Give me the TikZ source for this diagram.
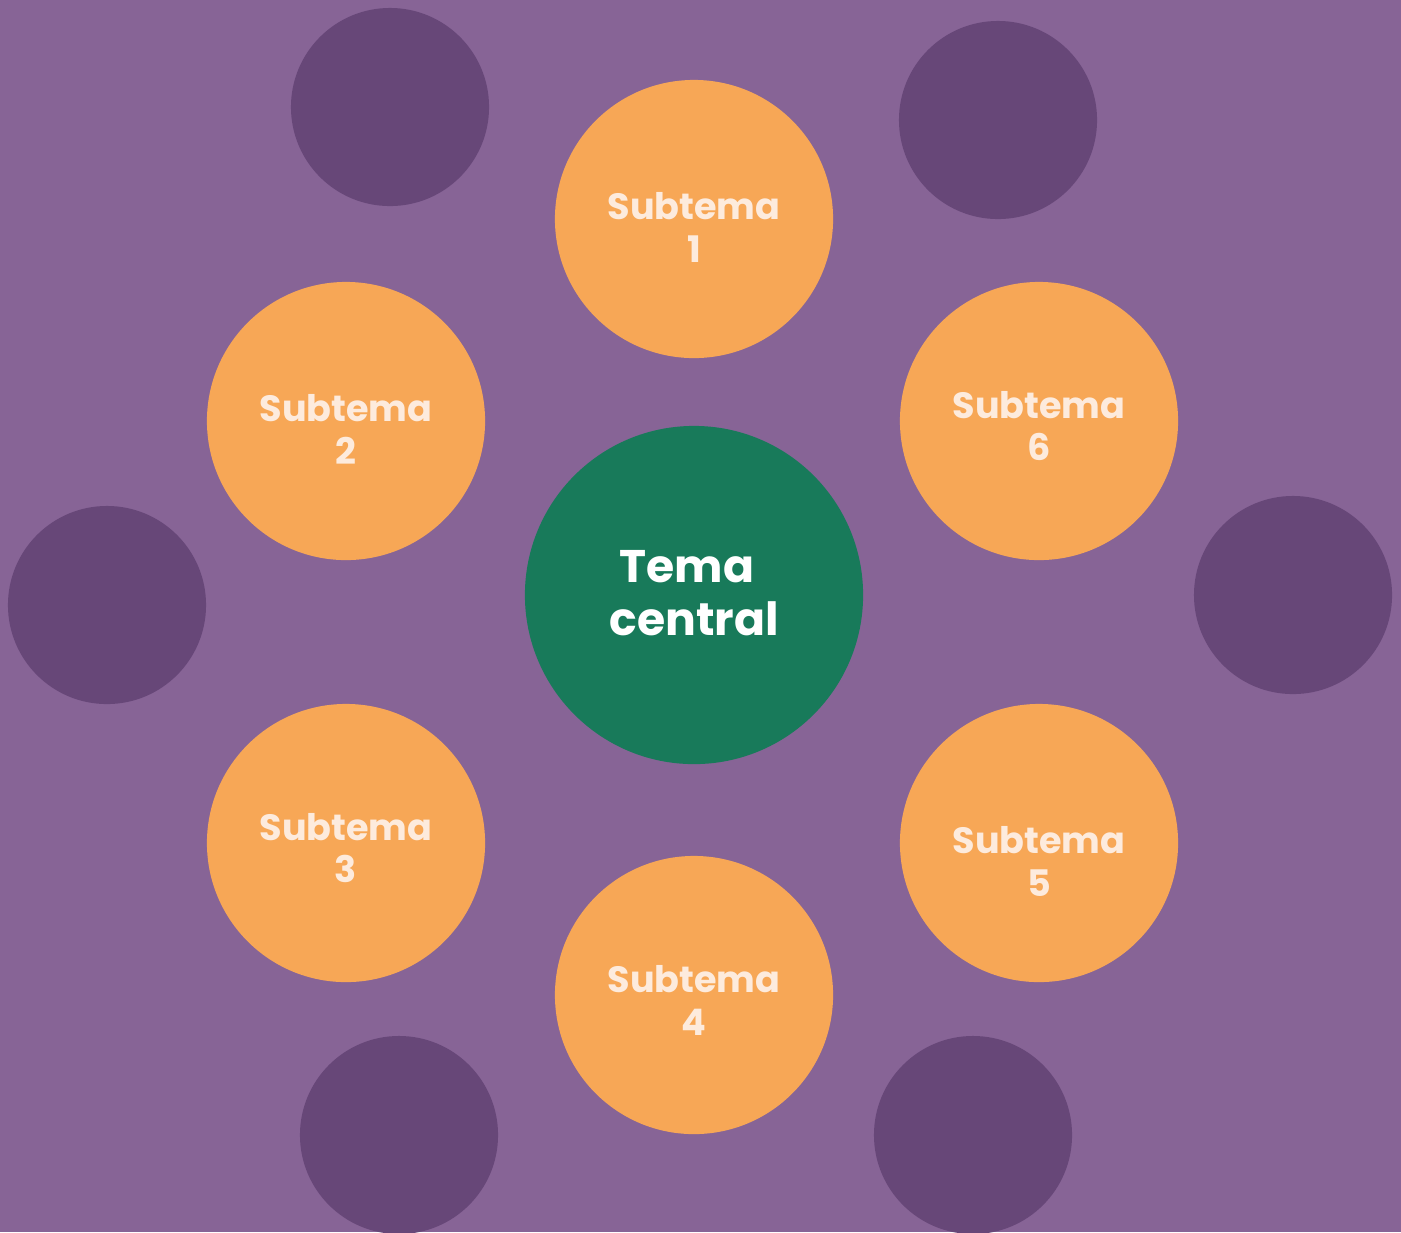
\documentclass[tikz,border=0pt]{standalone}
\usepackage{fontspec}
\setmainfont{Poppins}[BoldFont=* Bold]
\definecolor{bgc}{HTML}{876496}
\definecolor{dark}{HTML}{674778}
\definecolor{or1}{HTML}{F7A756}
\definecolor{or2}{HTML}{EF8E46}
\definecolor{gr1}{HTML}{187A5A}
\definecolor{gr2}{HTML}{0F6144}
\definecolor{cream}{HTML}{FDEBDD}
\pgfdeclareradialshading{orb}{\pgfpoint{0bp}{0bp}}{color(0bp)=(or1); color(36bp)=(or1); color(50bp)=(or2)}
\pgfdeclareradialshading{grb}{\pgfpoint{0bp}{0bp}}{color(0bp)=(gr1); color(36bp)=(gr1); color(50bp)=(gr2)}
\begin{document}
\begin{tikzpicture}[x=0.01cm,y=-0.01cm,
  deco/.style={circle,fill=dark,minimum size=1.98cm,inner sep=0pt},
  sub/.style={circle,shading=orb,minimum size=2.78cm,inner sep=0pt},
  subtext/.style={align=center,inner sep=0pt,text=cream,
    font=\bfseries\fontsize{10.4}{12.2}\selectfont},
  core/.style={circle,shading=grb,minimum size=3.38cm,inner sep=0pt},
  coretext/.style={align=center,inner sep=0pt,text=white,
    font=\bfseries\fontsize{13}{15.2}\selectfont}]
\fill[bgc] (0,0) rectangle (1401,1232);
\useasboundingbox (0,0) rectangle (1401,1232);
\begin{scope}
\clip (0,0) rectangle (1401,1232);
\node[deco] (d1) at (390,107) {};
\node[deco] (d2) at (998,120) {};
\node[deco] (d3) at (107,605) {};
\node[deco] (d4) at (1293,595) {};
\node[deco] (d5) at (399,1135) {};
\node[deco] (d6) at (973,1135) {};
\end{scope}
\node[sub] (s1) at (694,219) {};
\node[sub] (s2) at (346,421) {};
\node[sub] (s6) at (1039,421) {};
\node[sub] (s3) at (346,843) {};
\node[sub] (s5) at (1039,843) {};
\node[sub] (s4) at (694,995) {};
\node[core] (c) at (694,595) {};
\node[subtext] (t1) at ([yshift=-0.08cm]s1.center) {Subtema\\1};
\node[subtext] (t2) at ([yshift=-0.08cm]s2.center) {Subtema\\2};
\node[subtext] (t6) at ([yshift=-0.05cm]s6.center) {Subtema\\6};
\node[subtext] (t3) at ([yshift=-0.05cm]s3.center) {Subtema\\3};
\node[subtext] (t5) at ([yshift=-0.18cm]s5.center) {Subtema\\5};
\node[subtext] (t4) at ([yshift=-0.05cm]s4.center) {Subtema\\4};
\node[coretext] (tc) at ([yshift=0.02cm]c.center) {Tema\rule{0.14cm}{0pt}\\central};
\end{tikzpicture}
\end{document}
